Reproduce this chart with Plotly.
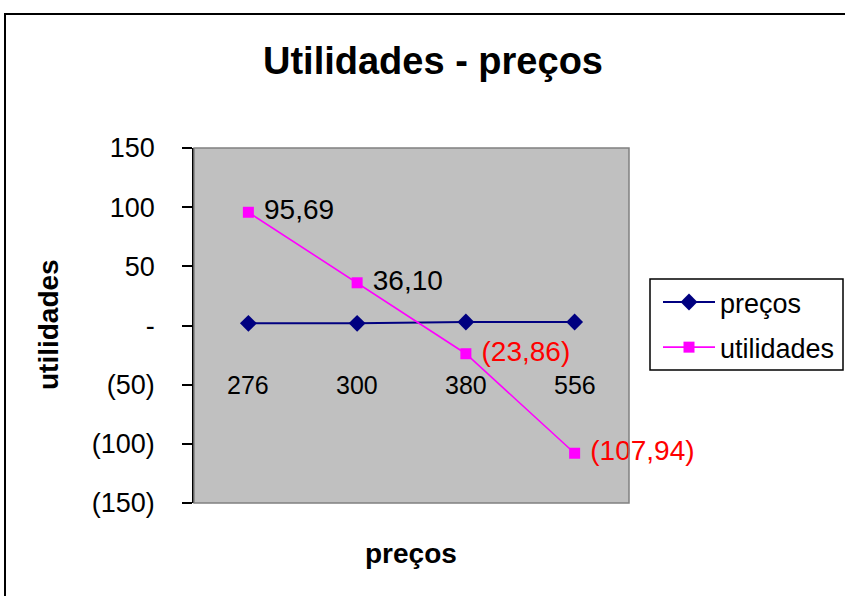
import plotly.graph_objects as go

# Price levels (category labels) and the two series plotted against them
categories = ["276", "300", "380", "556"]
precos = [1.8, 1.8, 2.9, 2.9]
utilidades = [95.69, 36.10, -23.86, -107.94]

y_ticks = [150, 100, 50, 0, -50, -100, -150]


def fmt_num(v, decimals=0):
    """Accounting style: comma decimals, negatives in parentheses, zero as '-'."""
    if v == 0:
        return "-"
    s = f"{abs(v):.{decimals}f}".replace(".", ",")
    return f"({s})" if v < 0 else s


FONT = "Arial, Liberation Sans, sans-serif"

# plot-area placement in pixels
W, H = 845, 596
L, R, T, B = 194, 629, 148, 503


def px_x(p):
    return (p - L) / (R - L)


def px_y(p):
    return (B - p) / (B - T)


fig = go.Figure()

fig.add_trace(go.Scatter(
    x=categories, y=precos, name="preços", mode="lines+markers",
    legendgroup="precos",
    line=dict(color="#000080", width=2),
    marker=dict(symbol="diamond", size=13, color="#000080"),
))

fig.add_trace(go.Scatter(
    x=categories, y=utilidades, name="utilidades", mode="lines+markers+text",
    legendgroup="utilidades",
    line=dict(color="#FF00FF", width=1.6),
    marker=dict(symbol="square", size=11, color="#FF00FF"),
    text=[" " + fmt_num(v, 2) for v in utilidades],
    textposition="middle right",
    textfont=dict(family=FONT, size=28,
                  color=["red" if v < 0 else "black" for v in utilidades]),
    cliponaxis=False,
))

annotations = []
# category labels sit in a row below the zero line
for i, c in enumerate(categories):
    annotations.append(dict(
        x=i, xref="x", y=px_y(385), yref="paper", text=c, showarrow=False,
        font=dict(family=FONT, size=25, color="black"),
        xanchor="center", yanchor="middle",
    ))

annotations.append(dict(
    x=px_x(48), y=px_y(325), xref="paper", yref="paper", text="<b>utilidades</b>",
    textangle=-90, showarrow=False, font=dict(family=FONT, size=28, color="black"),
    xanchor="center", yanchor="middle",
))
annotations.append(dict(
    x=px_x(411), y=px_y(553), xref="paper", yref="paper", text="<b>preços</b>",
    showarrow=False, font=dict(family=FONT, size=28, color="black"),
    xanchor="center", yanchor="middle",
))

shapes = [
    # grey frame around the plot area
    dict(type="rect", xref="paper", yref="paper", x0=0, x1=1, y0=0, y1=1,
         line=dict(color="#808080", width=1.5), layer="above"),
    # legend box
    dict(type="rect", xref="paper", yref="paper",
         x0=px_x(650), x1=px_x(843), y0=px_y(370), y1=px_y(279),
         line=dict(color="black", width=1.5), fillcolor="white", layer="below"),
    # outer chart border
    dict(type="rect", xref="paper", yref="paper",
         x0=px_x(5), x1=px_x(860), y0=px_y(610), y1=px_y(14),
         line=dict(color="black", width=2)),
]

fig.update_layout(
    width=W, height=H,
    margin=dict(l=L, r=W - R, t=T, b=H - B, autoexpand=False),
    paper_bgcolor="white",
    plot_bgcolor="#C0C0C0",
    font=dict(family=FONT, color="black"),
    title=dict(text="<b>Utilidades - preços</b>", x=433 / W, xanchor="center",
               y=1 - 61 / H, yanchor="middle", yref="container",
               font=dict(family=FONT, size=38, color="black")),
    xaxis=dict(type="category", showticklabels=False, showline=False,
               showgrid=False, zeroline=False, ticks="", range=[-0.5, 3.5]),
    yaxis=dict(range=[-150, 150], tickvals=y_ticks,
               ticktext=[fmt_num(v) for v in y_ticks],
               showgrid=False, zeroline=False, showline=True,
               linecolor="black", linewidth=1.5, ticks="outside", ticklen=10,
               tickcolor="black", tickwidth=1.5, ticklabelstandoff=22,
               tickfont=dict(family=FONT, size=27, color="black")),
    legend=dict(x=px_x(658), y=px_y(278), xanchor="left", yanchor="top",
                bgcolor="rgba(0,0,0,0)", borderwidth=0,
                font=dict(family=FONT, size=27, color="black"),
                traceorder="grouped", tracegroupgap=7, itemwidth=52),
    showlegend=True,
    annotations=annotations,
    shapes=shapes,
)

fig.write_html("out.html")
